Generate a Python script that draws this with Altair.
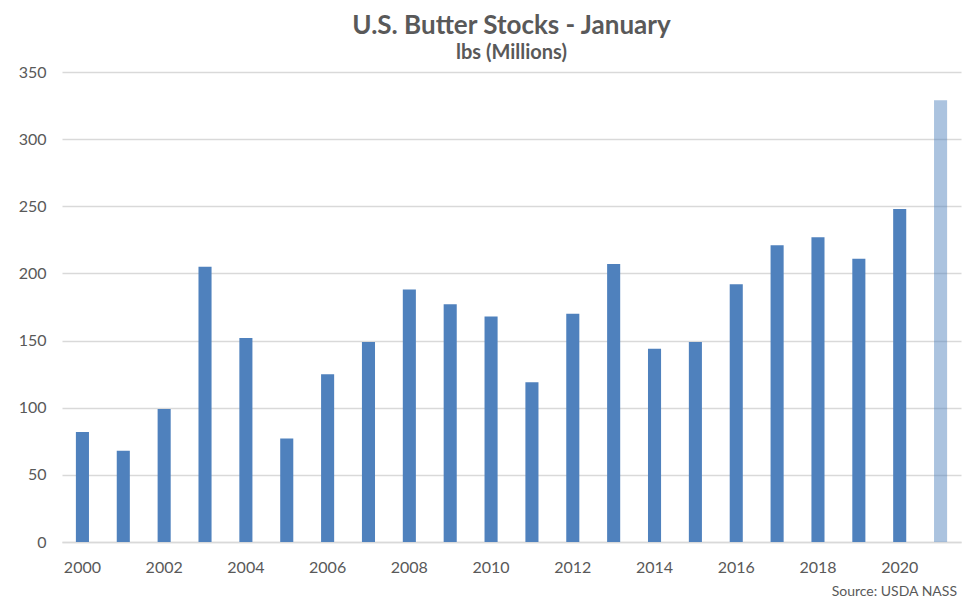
import altair as alt
import pandas as pd

years = list(range(2000, 2022))
stocks = [82, 68, 99, 205, 152, 77, 125, 149, 188, 177, 168,
          119, 170, 207, 144, 149, 192, 221, 227, 211, 248, 329]
status = ["final"] * 21 + ["latest"]
tick_years = list(range(2000, 2021, 2))
source_note = ["Source: USDA NASS"]

df = pd.DataFrame({"year": years, "stocks": stocks, "status": status})
FONT = "Lato"
GREY = "#595959"
W, H = 899, 470

bars = alt.Chart(df).mark_bar(color="#4f81bd").encode(
    x=alt.X("year:O", title=None,
            scale=alt.Scale(paddingInner=0.68, paddingOuter=0.34),
            axis=alt.Axis(values=tick_years, labelAngle=0, ticks=False,
                          domain=True, domainColor="#d9d9d9", domainWidth=1.5,
                          labelFontSize=16, labelColor=GREY, labelFont=FONT,
                          labelPadding=17, grid=False)),
    y=alt.Y("stocks:Q", title=None,
            scale=alt.Scale(domain=[0, 350], nice=False),
            axis=alt.Axis(values=list(range(0, 351, 50)), ticks=False, domain=False,
                          gridColor="#d9d9d9", gridWidth=1.5,
                          labelFontSize=16, labelColor=GREY, labelFont=FONT,
                          labelPadding=16, minExtent=54, maxExtent=54)),
    opacity=alt.Opacity("status:N", legend=None,
                        scale=alt.Scale(domain=["final", "latest"], range=[1.0, 0.48])),
)

src = alt.Chart(pd.DataFrame({"t": source_note})).mark_text(
    align="right", baseline="alphabetic", fontSize=14, color=GREY, font=FONT
).encode(text="t:N", x=alt.value(W - 4), y=alt.value(H + 54))

chart = alt.layer(bars, src).properties(
    width=W, height=H,
    padding={"left": 0, "top": 5, "right": 6, "bottom": 0},
    title=alt.TitleParams(
        text="U.S. Butter Stocks - January", subtitle="lbs (Millions)",
        fontSize=26, subtitleFontSize=20, fontWeight="bold", subtitleFontWeight="bold",
        color=GREY, subtitleColor=GREY, font=FONT, subtitleFont=FONT,
        anchor="middle", frame="group", offset=1, subtitlePadding=4),
).configure_view(stroke=None)

chart.save("out.html", embed_options={"renderer": "svg", "actions": False})
